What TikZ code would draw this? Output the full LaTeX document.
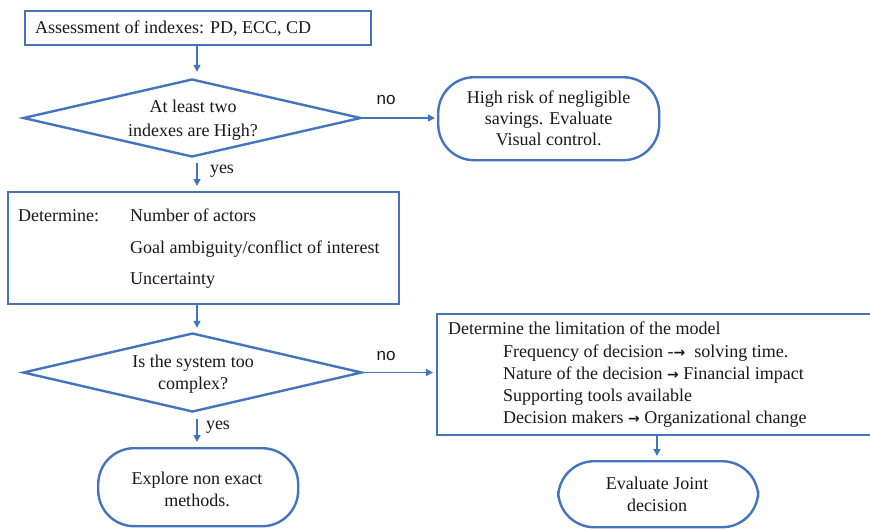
\documentclass[tikz,border=0pt]{standalone}
\usepackage{fontspec}
\IfFontExistsTF{LiberationSerif-Regular.ttf}{%
  \setmainfont{LiberationSerif}[Extension=.ttf, UprightFont=*-Regular, BoldFont=*-Bold, ItalicFont=*-Italic, BoldItalicFont=*-BoldItalic]}{%
  \setmainfont{Liberation Serif}}
\newfontfamily\labsans{Liberation Sans}
\newfontfamily\arrowfont{DejaVu Sans Bold}
\usetikzlibrary{shapes.geometric,arrows.meta}
\definecolor{fcblue}{RGB}{68,116,192}
\definecolor{fctext}{RGB}{25,25,25}
\newcommand{\rarr}{{\arrowfont\fontsize{14}{22}\selectfont →}}
\tikzset{
  boxline/.style={draw=fcblue, line width=2.4pt},
  rbox/.style={boxline, rectangle, inner sep=0pt, anchor=north west},
  rrbox/.style={boxline, rectangle, rounded corners=36pt, inner sep=0pt, anchor=north west},
  dbox/.style={boxline, diamond, aspect=4.3, inner sep=0pt},
  arr/.style={draw=fcblue, line width=1.5pt, -{Triangle[length=7pt,width=7pt]}},
  txt/.style={text=fctext, font=\rmfamily\fontsize{18}{22}\selectfont, inner sep=0pt},
  lab/.style={text=fctext, inner sep=0pt}
}
\begin{document}
\begin{tikzpicture}[x=1pt,y=1pt]
\useasboundingbox[fill=white] (0,0) rectangle (870,-528);
% nodes
\node[rbox, minimum width=346pt, minimum height=34pt] (b1) at (24,-10) {};
\node[txt, anchor=base west] (t1) at (35,-33) {Assessment of indexes: PD, ECC, CD};

\node[dbox, minimum width=338pt, minimum height=78pt] (d1) at (192,-118) {};
\node[txt, align=center, font=\rmfamily\fontsize{18}{24}\selectfont] (t2) at (193,-120) {At least two\\indexes are High?};

\node[rrbox, minimum width=221pt, minimum height=83pt] (hr) at (437,-76) {};
\node[txt, align=center, font=\rmfamily\fontsize{18}{21}\selectfont] (t3) at (hr.center) {High risk of negligible\\savings. Evaluate\\Visual control.};

\node[rbox, minimum width=391pt, minimum height=112pt] (b2) at (7,-191) {};
\node[txt, anchor=base west] (t4a) at (18,-221) {Determine:};
\node[txt, anchor=base west] (t4b) at (130,-221) {Number of actors};
\node[txt, anchor=base west] (t4c) at (130,-253) {Goal ambiguity/conflict of interest};
\node[txt, anchor=base west] (t4d) at (130,-284) {Uncertainty};

\node[dbox, minimum width=339pt, minimum height=79pt] (d2) at (192.5,-372.5) {};
\node[txt, align=center] (t5) at (193,-374) {Is the system too\\complex?};

\node[rbox, minimum width=445pt, minimum height=121pt] (b3) at (436,-313) {};
\node[txt, anchor=base west] (t6a) at (448,-334) {Determine the limitation of the model};
\node[txt, anchor=base west] (t6b) at (503,-357) {Frequency of decision -\rarr\ \ solving time.};
\node[txt, anchor=base west] (t6c) at (503,-379) {Nature of the decision \rarr\ Financial impact};
\node[txt, anchor=base west] (t6d) at (503,-401) {Supporting tools available};
\node[txt, anchor=base west] (t6e) at (503,-423) {Decision makers \rarr\ Organizational change};

\node[rrbox, minimum width=200pt, minimum height=78pt] (ex) at (97,-447) {};
\node[txt, align=center] (t7) at (197,-489) {Explore non exact\\methods.};

\node[rrbox, minimum width=200pt, minimum height=66pt] (ev) at (557,-460) {};
\node[txt, align=center] (t8) at (657,-494) {Evaluate Joint\\decision};

% connectors
\coordinate (ax) at (197,0);
\coordinate (bx) at (657,0);
\draw[arr, shorten >=6pt] (b1.south -| ax) -- (d1.north -| ax);
\draw[arr, shorten <=5pt, shorten >=5pt] (d1.south -| ax) -- (b2.north -| ax);
\draw[arr, shorten >=4pt] (b2.south -| ax) -- (d2.north -| ax);
\draw[arr, shorten <=6pt, shorten >=5pt] (d2.south -| ax) -- (ex.north -| ax);
\draw[arr, shorten >=2pt] (d1.east) -- (d1.east -| hr.west);
\draw[arr, shorten >=3pt] (d2.east) -- (d2.east -| b3.west);
\draw[arr, shorten >=4pt] (b3.south -| bx) -- (ev.north -| bx);

% labels
\node[lab, font=\labsans\fontsize{17}{20}\selectfont] (n1) at (386,-100) {no};
\node[lab, font=\labsans\fontsize{17}{20}\selectfont] (n2) at (386,-356) {no};
\node[lab, font=\rmfamily\fontsize{18}{22}\selectfont] (y1) at (222,-171) {yes};
\node[lab, font=\rmfamily\fontsize{18}{22}\selectfont] (y2) at (218,-427) {yes};
\end{tikzpicture}
\end{document}
